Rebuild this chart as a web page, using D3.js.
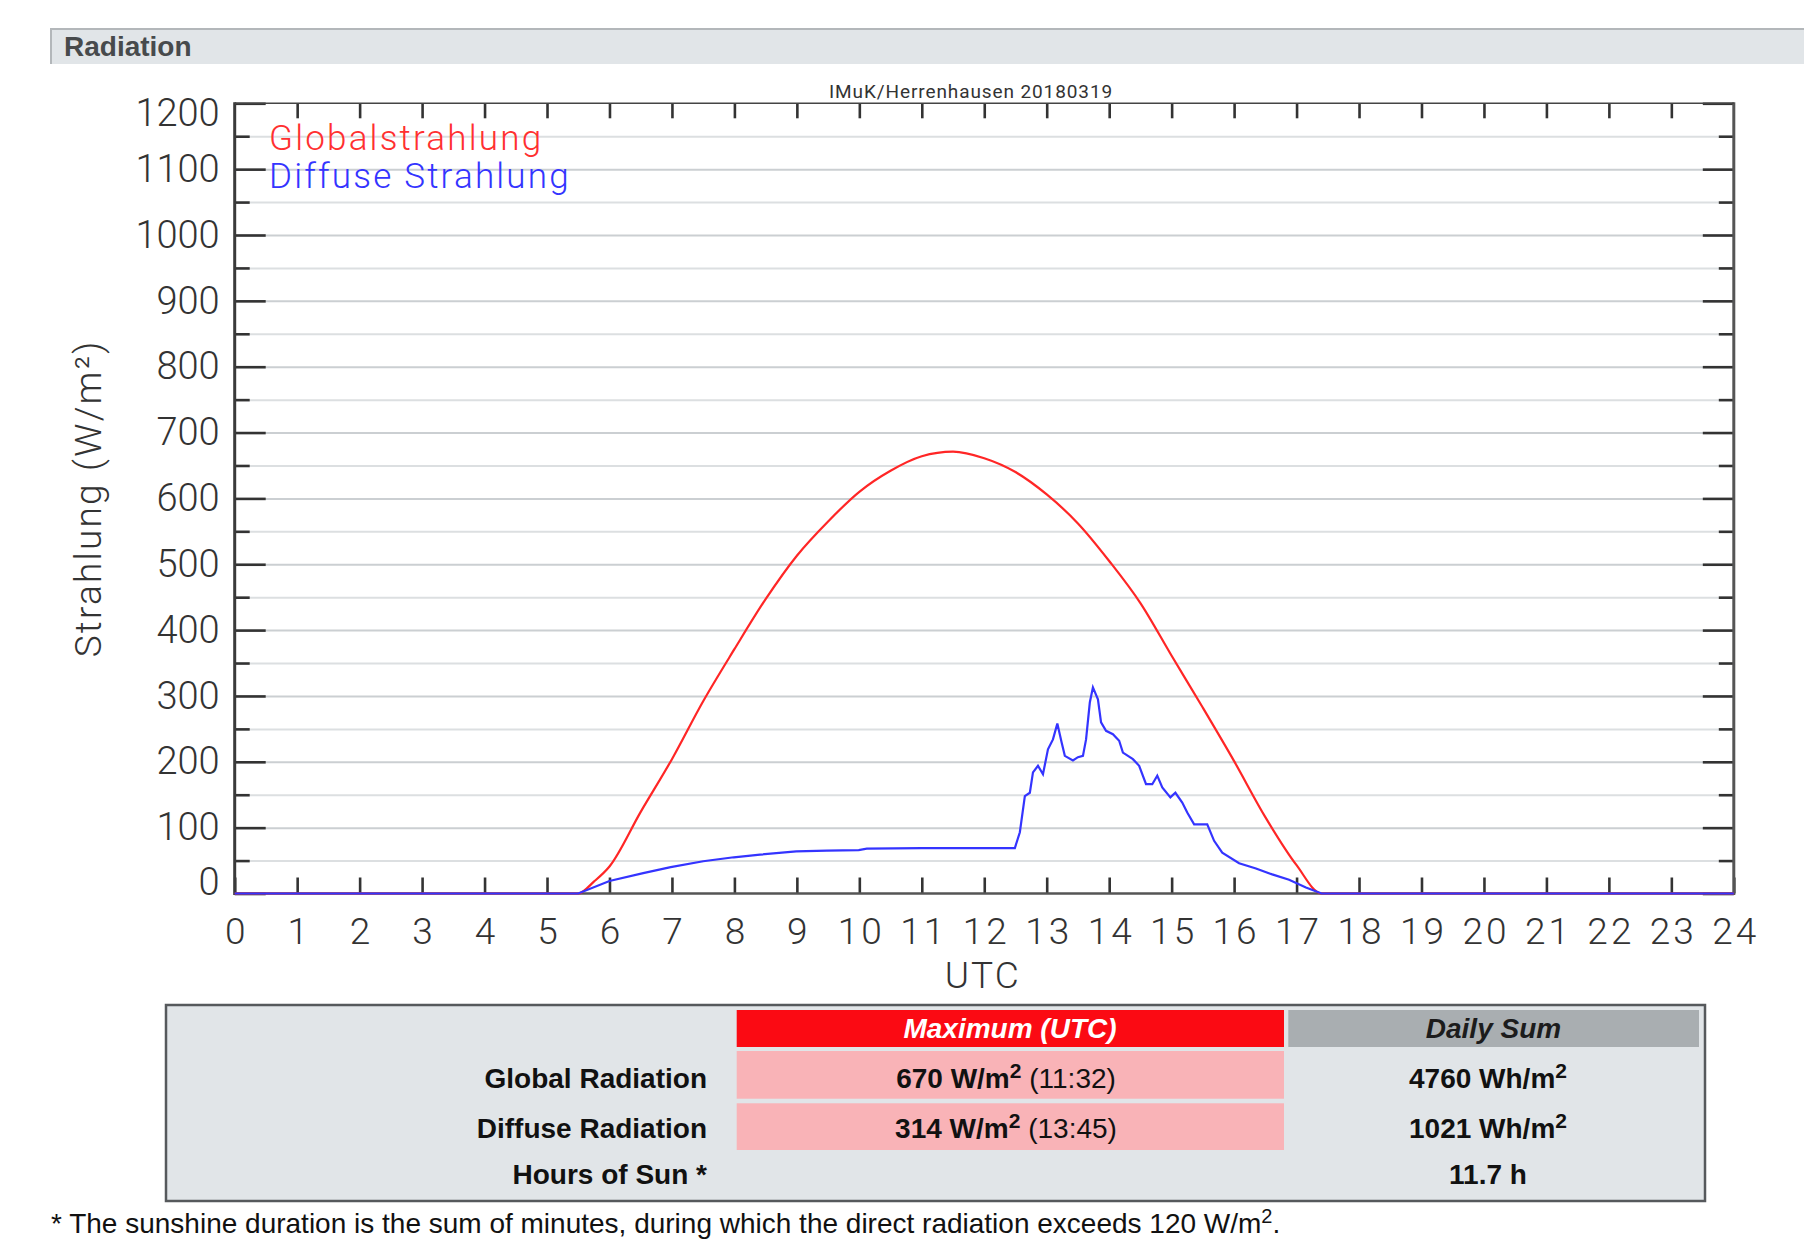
<!DOCTYPE html>
<html>
<head>
<meta charset="utf-8">
<script src="https://cdn.jsdelivr.net/npm/d3@7"></script>
<style>
  body { margin: 0; background: #fff; }
</style>
</head>
<body>
<script>
const width = 1804;
const height = 1258;

// hour (UTC) -> W/m2
const global_hours = [0, 5.5, 5.75, 6.0, 6.5, 7.0, 7.5, 8.0, 8.5, 9.0, 9.5, 10.0, 10.5, 11.0, 11.5, 12.0, 12.5, 13.0, 13.5, 14.0, 14.5, 15.0, 15.5, 16.0, 16.5, 17.0, 17.4, 24];
const global_values = [0, 0, 18, 41, 124, 204, 292, 371, 447, 513, 565, 610, 642, 664, 671, 661, 640, 606, 562, 505, 441, 361, 282, 201, 116, 43, 0, 0];

const diffuse_hours = [0, 5.5, 6.0, 6.54, 6.98, 7.5, 7.99, 8.41, 8.99, 9.48, 9.99, 10.12, 11.0, 12.0, 12.49, 12.57, 12.65, 12.73, 12.78, 12.86, 12.94, 13.02, 13.1, 13.17, 13.24, 13.29, 13.42, 13.5, 13.58, 13.63, 13.69, 13.74, 13.82, 13.87, 13.95, 14.06, 14.16, 14.22, 14.38, 14.48, 14.59, 14.69, 14.77, 14.85, 14.98, 15.06, 15.17, 15.25, 15.36, 15.57, 15.68, 15.81, 16.08, 16.35, 16.61, 16.88, 17.15, 17.4, 24];
const diffuse_values = [0, 0, 19, 31, 40, 49, 55, 59, 64, 65, 66, 68, 69, 69, 69, 93, 148, 153, 184, 194, 181, 219, 234, 258, 229, 209, 202, 207, 209, 234, 290, 313, 295, 260, 247, 242, 232, 214, 204, 194, 166, 166, 179, 161, 146, 153, 138, 123, 105, 105, 80, 62, 46, 38, 29, 21, 9, 0, 0];

const hour_ticks = [0, 1, 2, 3, 4, 5, 6, 7, 8, 9, 10, 11, 12, 13, 14, 15, 16, 17, 18, 19, 20, 21, 22, 23, 24];
const y_ticks = [0, 100, 200, 300, 400, 500, 600, 700, 800, 900, 1000, 1100, 1200];
const y_minor = [50, 150, 250, 350, 450, 550, 650, 750, 850, 950, 1050, 1150];

const series_names = ['Globalstrahlung', 'Diffuse Strahlung'];
const plot_title = 'IMuK/Herrenhausen 20180319';

const row_labels = ['Global Radiation', 'Diffuse Radiation', 'Hours of Sun *'];
const max_values = ['670', '314'];
const max_times = ['11:32', '13:45'];
const daily_sums = ['4760 Wh/m', '1021 Wh/m'];
const sun_hours = '11.7 h';

const plot_font = 'Roboto, "Liberation Sans", sans-serif';
const table_font = '"Liberation Sans", Arial, sans-serif';

const svg = d3.select('body')
    .append('svg')
    .attr('width', width)
    .attr('height', height);

// section header
svg.append('rect')
    .attr('x', 50).attr('y', 28)
    .attr('width', width - 50).attr('height', 36)
    .attr('fill', '#e1e5e8');
svg.append('path')
    .attr('d', `M51,64V29H${width}`)
    .attr('fill', 'none')
    .attr('stroke', '#b3b7ba')
    .attr('stroke-width', 2);
svg.append('text')
    .attr('x', 64).attr('y', 56)
    .attr('font-family', table_font)
    .attr('font-size', 28)
    .attr('font-weight', 'bold')
    .attr('fill', '#474a4c')
    .text('Radiation');

const x = d3.scaleLinear().domain([0, 24]).range([234.7, 1733.8]);
const y = d3.scaleLinear().domain([0, 1200]).range([893.5, 103.3]);

// grid
const grid = svg.append('g')
    .attr('transform', `translate(${x(0)},0)`)
    .call(d3.axisLeft(y).tickValues(y_minor.concat(y_ticks.slice(1, -1))).tickSize(-(x(24) - x(0))).tickFormat(''));
grid.select('.domain').remove();
grid.selectAll('line')
    .attr('stroke', d => d % 100 === 0 ? '#cbcfd2' : '#dcdfe1')
    .attr('stroke-width', 2);

function style_ticks(g) {
    g.select('.domain').remove();
    g.selectAll('line').attr('stroke', '#333').attr('stroke-width', 2.6);
}

// left axis with labels
const left_axis = svg.append('g')
    .attr('transform', `translate(${x(0)},0)`)
    .call(d3.axisLeft(y).tickValues(y_ticks).tickSize(-31).tickPadding(15).tickFormat(d3.format('d')))
    .call(style_ticks)
    .attr('font-family', plot_font)
    .attr('font-size', 38)
    .attr('font-weight', 300);
left_axis.selectAll('text')
    .attr('fill', '#333')
    .attr('transform', d => d === 1200 ? 'translate(0,10)' : d === 0 ? 'translate(0,-11)' : null);
svg.append('g')
    .attr('transform', `translate(${x(0)},0)`)
    .call(d3.axisLeft(y).tickValues(y_minor).tickSize(-15).tickFormat(''))
    .call(style_ticks);

// right axis
svg.append('g')
    .attr('transform', `translate(${x(24)},0)`)
    .call(d3.axisRight(y).tickValues(y_ticks).tickSize(-31).tickFormat(''))
    .call(style_ticks);
svg.append('g')
    .attr('transform', `translate(${x(24)},0)`)
    .call(d3.axisRight(y).tickValues(y_minor).tickSize(-15).tickFormat(''))
    .call(style_ticks);

// top axis
svg.append('g')
    .attr('transform', `translate(0,${y(1200)})`)
    .call(d3.axisTop(x).tickValues(hour_ticks.slice(1, -1)).tickSize(-15).tickFormat(''))
    .call(style_ticks);

// bottom axis with labels
const bottom_axis = svg.append('g')
    .attr('transform', `translate(0,${y(0)})`)
    .call(d3.axisBottom(x).tickValues(hour_ticks).tickSize(-16))
    .call(style_ticks)
    .attr('font-family', plot_font)
    .attr('font-size', 37)
    .attr('font-weight', 300);
bottom_axis.selectAll('text')
    .attr('fill', '#333')
    .attr('y', 50)
    .attr('dy', 0)
    .attr('letter-spacing', 3)
    .attr('dx', 1.5);

// frame
const frame = svg.append('g').attr('fill', 'none');
frame.append('line').attr('x1', x(0)).attr('x2', x(0)).attr('y1', y(1200) - 1).attr('y2', y(0) + 1.5)
    .attr('stroke', '#3a3a3a').attr('stroke-width', 3);
frame.append('line').attr('x1', x(24)).attr('x2', x(24)).attr('y1', y(1200) - 1).attr('y2', y(0) + 1.5)
    .attr('stroke', '#555').attr('stroke-width', 3);
frame.append('line').attr('x1', x(0)).attr('x2', x(24)).attr('y1', y(1200)).attr('y2', y(1200))
    .attr('stroke', '#444').attr('stroke-width', 1.6);
frame.append('line').attr('x1', x(0)).attr('x2', x(24)).attr('y1', y(0)).attr('y2', y(0))
    .attr('stroke', '#555').attr('stroke-width', 2.5);

// curves
svg.append('path')
    .datum(d3.zip(global_hours, global_values))
    .attr('fill', 'none')
    .attr('stroke', '#ff2626')
    .attr('stroke-width', 2.2)
    .attr('d', d3.line().x(d => x(d[0])).y(d => y(d[1])).curve(d3.curveMonotoneX));
svg.append('path')
    .datum(d3.zip(diffuse_hours, diffuse_values))
    .attr('fill', 'none')
    .attr('stroke', '#3434ff')
    .attr('stroke-width', 2.2)
    .attr('d', d3.line().x(d => x(d[0])).y(d => y(d[1])));

// plot texts
svg.append('text')
    .attr('x', 829).attr('y', 98)
    .attr('font-family', plot_font)
    .attr('font-size', 19)
    .attr('letter-spacing', 0.9)
    .attr('fill', '#333')
    .text(plot_title);

const legend_colors = ['#ff3030', '#3434ff'];
svg.append('g').selectAll('text')
    .data(series_names)
    .enter().append('text')
    .attr('x', 269)
    .attr('y', (d, i) => 150 + i * 38)
    .attr('font-family', plot_font)
    .attr('font-size', 35)
    .attr('font-weight', 300)
    .attr('letter-spacing', 2.2)
    .attr('fill', (d, i) => legend_colors[i])
    .text(d => d);

svg.append('text')
    .attr('text-anchor', 'middle')
    .attr('transform', `translate(101,${(y(0) + y(1200)) / 2}) rotate(-90)`)
    .attr('font-family', plot_font)
    .attr('font-size', 37)
    .attr('font-weight', 300)
    .attr('letter-spacing', 2.2)
    .attr('fill', '#333')
    .text('Strahlung (W/m²)');

svg.append('text')
    .attr('x', (x(0) + x(24)) / 2 - 1.5)
    .attr('y', 988)
    .attr('text-anchor', 'middle')
    .attr('font-family', plot_font)
    .attr('font-size', 37)
    .attr('font-weight', 300)
    .attr('letter-spacing', 2)
    .attr('fill', '#333')
    .text('UTC');

// summary table
const table = svg.append('g')
    .attr('font-family', table_font)
    .attr('font-size', 28);
table.append('rect')
    .attr('x', 166).attr('y', 1005).attr('width', 1539).attr('height', 196)
    .attr('fill', '#e1e5e8').attr('stroke', '#56595c').attr('stroke-width', 2.5);
table.append('rect')
    .attr('x', 736.7).attr('y', 1010).attr('width', 547.3).attr('height', 37)
    .attr('fill', '#fb0a13');
table.append('rect')
    .attr('x', 1288.3).attr('y', 1010).attr('width', 410.7).attr('height', 37)
    .attr('fill', '#a9aeb1');
const pink_rows = [[1051, 47.7], [1103.3, 46.7]];
table.selectAll('rect.pink')
    .data(pink_rows)
    .enter().append('rect')
    .attr('class', 'pink')
    .attr('x', 736.7).attr('y', d => d[0]).attr('width', 547.3).attr('height', d => d[1])
    .attr('fill', '#f9b3b7');

table.append('text')
    .attr('x', 1010).attr('y', 1038).attr('text-anchor', 'middle')
    .attr('font-weight', 'bold').attr('font-style', 'italic').attr('fill', '#fff')
    .text('Maximum (UTC)');
table.append('text')
    .attr('x', 1493.5).attr('y', 1038).attr('text-anchor', 'middle')
    .attr('font-weight', 'bold').attr('font-style', 'italic').attr('fill', '#1c1c1c')
    .text('Daily Sum');

const row_base = [1087.7, 1138, 1184];
table.selectAll('text.row')
    .data(row_labels)
    .enter().append('text')
    .attr('class', 'row')
    .attr('x', 707).attr('y', (d, i) => row_base[i])
    .attr('text-anchor', 'end')
    .attr('font-weight', 'bold').attr('fill', '#111')
    .text(d => d);

function add_value(x_pos, y_pos, bold, sup, rest) {
    const t = table.append('text')
        .attr('x', x_pos).attr('y', y_pos)
        .attr('text-anchor', 'middle').attr('fill', '#111');
    t.append('tspan').attr('font-weight', 'bold').text(bold);
    t.append('tspan').attr('font-weight', 'bold').attr('font-size', 21)
        .attr('dy', -10).text(sup);
    if (rest) t.append('tspan').attr('dy', 10).text(rest);
}
max_values.forEach((v, i) => add_value(1006, row_base[i], v + ' W/m', '2', ' (' + max_times[i] + ')'));
daily_sums.forEach((v, i) => add_value(1488, row_base[i], v, '2', null));
table.append('text')
    .attr('x', 1488).attr('y', row_base[2]).attr('text-anchor', 'middle')
    .attr('font-weight', 'bold').attr('fill', '#111')
    .text(sun_hours);

// footnote
const note = svg.append('text')
    .attr('x', 51).attr('y', 1233)
    .attr('font-family', table_font)
    .attr('font-size', 28)
    .attr('fill', '#111');
note.append('tspan').text('* The sunshine duration is the sum of minutes, during which the direct radiation exceeds 120 W/m');
note.append('tspan').attr('font-size', 20).attr('dy', -10).text('2');
note.append('tspan').attr('dy', 10).text('.');
</script>
</body>
</html>
